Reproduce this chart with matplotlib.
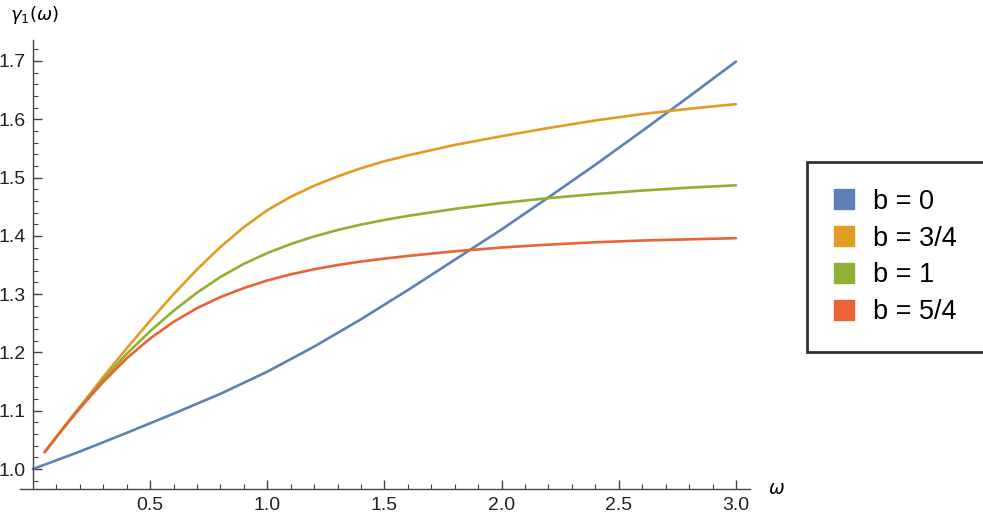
import numpy as np
import matplotlib.pyplot as plt
from matplotlib.patches import Patch
from matplotlib.ticker import MultipleLocator

# courbe b = 0
x_b0 = [0.0, 0.2, 0.4, 0.6, 0.8, 1.0, 1.2, 1.4, 1.6, 1.8, 2.0, 2.2, 2.4, 2.6, 2.8, 3.0]
y_b0 = [1.000, 1.030, 1.062, 1.095, 1.129, 1.167, 1.210, 1.257, 1.307, 1.359, 1.411, 1.466,
        1.522, 1.580, 1.639, 1.699]

# courbes b > 0 (meme grille en omega)
x_b = [0.05, 0.1, 0.15, 0.2, 0.25, 0.3, 0.4, 0.5, 0.6, 0.7, 0.8, 0.9, 1.0, 1.1, 1.2,
       1.3, 1.4, 1.5, 1.6, 1.8, 2.0, 2.2, 2.4, 2.6, 2.8, 3.0]
y_b34 = [1.029, 1.055, 1.081, 1.107, 1.132, 1.158, 1.207, 1.2545, 1.300, 1.3425, 1.381, 1.415,
         1.444, 1.467, 1.486, 1.502, 1.516, 1.528, 1.538, 1.556, 1.571, 1.585, 1.598, 1.609,
         1.618, 1.626]
y_b1 = [1.029, 1.055, 1.081, 1.106, 1.130, 1.154, 1.1975, 1.2365, 1.2715, 1.3025, 1.3295, 1.352,
        1.3705, 1.386, 1.399, 1.410, 1.4193, 1.4273, 1.4343, 1.4463, 1.4563, 1.4647, 1.4717,
        1.4777, 1.4827, 1.4867]
y_b54 = [1.029, 1.055, 1.080, 1.104, 1.1273, 1.1495, 1.190, 1.224, 1.2525, 1.276, 1.295, 1.3105,
         1.3235, 1.334, 1.3427, 1.3499, 1.356, 1.361, 1.3655, 1.3735, 1.380, 1.385, 1.389, 1.392,
         1.394, 1.396]

labels = ["b = 0", "b = 3/4", "b = 1", "b = 5/4"]
colors = ["#5E81B5", "#E19C24", "#8FB032", "#EB6235"]

plt.rcParams['font.family'] = ['Liberation Sans', 'DejaVu Sans']

fig = plt.figure(figsize=(9.83, 5.17), dpi=100)
ax = fig.add_axes([20/983, 1 - 489/517, (750 - 20)/983, (489 - 40)/517])

ax.plot(x_b0, y_b0, color=colors[0], lw=1.9, solid_capstyle='round')
ax.plot(x_b, y_b34, color=colors[1], lw=1.9, solid_capstyle='round')
ax.plot(x_b, y_b1, color=colors[2], lw=1.9, solid_capstyle='round')
ax.plot(x_b, y_b54, color=colors[3], lw=1.9, solid_capstyle='round')

ax.set_xlim(-0.0555, 3.06)
ax.set_ylim(0.9657, 1.736)
ax.spines['top'].set_visible(False)
ax.spines['right'].set_visible(False)
ax.spines['left'].set_position(('data', 0))
for s in ['left', 'bottom']:
    ax.spines[s].set_color('#444444')
    ax.spines[s].set_linewidth(1.0)

ax.set_xticks([0.5, 1.0, 1.5, 2.0, 2.5, 3.0])
ax.set_yticks([1.0, 1.1, 1.2, 1.3, 1.4, 1.5, 1.6, 1.7])
ax.yaxis.set_minor_locator(MultipleLocator(0.02))
ax.set_xticks([t for t in np.arange(0.1, 3.01, 0.1) if abs(t * 2 - round(t * 2)) > 1e-6], minor=True)
ax.tick_params(which='major', direction='in', length=6.2, width=1.0, color='#444444')
ax.tick_params(which='minor', direction='in', length=3.6, width=0.8, color='#444444')
ax.tick_params(axis='x', which='major', pad=6)
ax.tick_params(axis='y', which='major', pad=5)
for lab in ax.get_xticklabels() + ax.get_yticklabels():
    lab.set_fontsize(14)
    lab.set_color('#222222')

fig.text(776/983, 1 - 490/517, r'$\omega$', fontsize=13.5, ha='center', va='center')
fig.text(34/983, 1 - 15/517, r'$\gamma_1(\omega)$', fontsize=13, ha='center', va='center')

handles = [Patch(facecolor=c, edgecolor=c) for c in colors]
leg = fig.legend(handles, labels, loc='center left', bbox_to_anchor=(807/983, 1 - 257/517),
                 fontsize=19.5, frameon=True, fancybox=False, handlelength=0.75, handleheight=0.75,
                 handletextpad=0.7, labelspacing=0.4, borderpad=1.0, borderaxespad=0)
leg.get_frame().set_edgecolor('black')
leg.get_frame().set_linewidth(2.0)

fig.savefig("out.png", dpi=100)
